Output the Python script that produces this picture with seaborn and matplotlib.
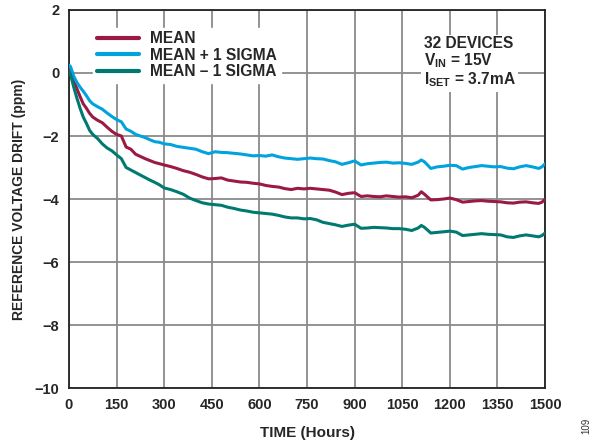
import numpy as np
import pandas as pd
import matplotlib
matplotlib.use("Agg")
import matplotlib.pyplot as plt
import seaborn as sns

hours = [0, 5, 15, 25, 35, 45, 55, 65, 75, 90, 105, 120, 135, 150, 165, 180, 195, 210, 225, 240,
         255, 270, 285, 300, 320, 340, 360, 380, 400, 420, 440, 460, 480, 500, 520, 540, 560, 580,
         600, 620, 640, 660, 680, 700, 720, 740, 760, 780, 800, 820, 840, 860, 880, 900, 920, 940,
         960, 980, 1000, 1020, 1040, 1060, 1080, 1100, 1110, 1120, 1140, 1160, 1180, 1200, 1220,
         1240, 1260, 1280, 1300, 1320, 1340, 1360, 1380, 1400, 1420, 1440, 1460, 1480, 1490, 1500]

mean = [0.15, 0.05, -0.25, -0.5, -0.75, -0.98, -1.12, -1.28, -1.4, -1.5, -1.58, -1.72, -1.85, -1.95,
        -2.0, -2.35, -2.42, -2.58, -2.65, -2.72, -2.78, -2.84, -2.88, -2.92, -2.97, -3.03, -3.1,
        -3.15, -3.22, -3.3, -3.36, -3.35, -3.33, -3.4, -3.43, -3.46, -3.47, -3.5, -3.52, -3.57,
        -3.6, -3.62, -3.67, -3.7, -3.66, -3.68, -3.66, -3.68, -3.7, -3.72, -3.78, -3.86, -3.82,
        -3.8, -3.92, -3.9, -3.92, -3.93, -3.9, -3.92, -3.94, -3.93, -3.96, -3.88, -3.77, -3.85,
        -4.03, -4.02, -4.0, -3.97, -4.02, -4.1, -4.08, -4.06, -4.05, -4.07, -4.08, -4.09, -4.12,
        -4.13, -4.1, -4.09, -4.12, -4.14, -4.1, -4.01]

mean_plus = [0.25, 0.2, -0.1, -0.3, -0.45, -0.58, -0.72, -0.88, -0.98, -1.07, -1.15, -1.27, -1.38,
             -1.48, -1.55, -1.78, -1.85, -1.95, -2.0, -2.05, -2.12, -2.18, -2.2, -2.25, -2.27, -2.33,
             -2.36, -2.39, -2.42, -2.5, -2.56, -2.5, -2.52, -2.53, -2.55, -2.57, -2.6, -2.63, -2.62,
             -2.64, -2.6, -2.66, -2.7, -2.72, -2.74, -2.72, -2.7, -2.72, -2.73, -2.78, -2.82, -2.9,
             -2.85, -2.79, -2.92, -2.88, -2.86, -2.84, -2.83, -2.86, -2.85, -2.87, -2.9, -2.83,
             -2.76, -2.82, -3.03, -2.98, -2.96, -2.93, -2.94, -3.05, -3.0, -2.97, -2.94, -2.96,
             -2.98, -2.97, -3.02, -3.04, -2.98, -2.94, -2.98, -3.03, -2.98, -2.88]

mean_minus = [0.05, -0.05, -0.45, -0.8, -1.12, -1.4, -1.6, -1.82, -1.95, -2.08, -2.25, -2.38, -2.47,
              -2.6, -2.72, -3.0, -3.08, -3.16, -3.24, -3.32, -3.4, -3.47, -3.55, -3.65, -3.7, -3.77,
              -3.85, -3.97, -4.05, -4.12, -4.16, -4.18, -4.2, -4.26, -4.3, -4.35, -4.38, -4.42,
              -4.44, -4.46, -4.48, -4.52, -4.57, -4.6, -4.6, -4.63, -4.62, -4.66, -4.74, -4.78,
              -4.82, -4.87, -4.83, -4.8, -4.93, -4.92, -4.9, -4.91, -4.92, -4.94, -4.94, -4.96,
              -5.0, -4.92, -4.84, -4.9, -5.08, -5.06, -5.04, -5.02, -5.05, -5.16, -5.14, -5.12,
              -5.1, -5.12, -5.13, -5.14, -5.2, -5.22, -5.17, -5.14, -5.17, -5.2, -5.16, -5.08]

series_names = ["MEAN", "MEAN + 1 SIGMA", "MEAN \u2013 1 SIGMA"]
colors = ["#9A1A44", "#00A3DD", "#007A70"]
x_ticks = [0, 150, 300, 450, 600, 750, 900, 1050, 1200, 1350, 1500]
y_ticks = [2, 0, -2, -4, -6, -8, -10]

sns.set_style("white")
plt.rcParams["font.family"] = ["Liberation Sans", "DejaVu Sans"]
plt.rcParams["mathtext.fontset"] = "custom"
plt.rcParams["mathtext.rm"] = "Liberation Sans:bold"
plt.rcParams["mathtext.it"] = "Liberation Sans:bold"
plt.rcParams["mathtext.bf"] = "Liberation Sans:bold"
plt.rcParams["mathtext.default"] = "rm"

df = pd.concat([
    pd.DataFrame({"hours": hours, "drift": vals, "series": name})
    for name, vals in zip(series_names, [mean, mean_plus, mean_minus])
])

fig = plt.figure(figsize=(6.03, 4.46), dpi=100)
ax = fig.add_axes([0.1144, 0.130, 0.7896, 0.8476])

sns.lineplot(data=df, x="hours", y="drift", hue="series", hue_order=series_names,
             palette=dict(zip(series_names, colors)), linewidth=2.2, ax=ax,
             legend=False, zorder=3)

ax.set_xlim(0, 1500)
ax.set_ylim(-10, 2)
ax.set_xticks(x_ticks)
ax.set_yticks(y_ticks)
ax.set_xticklabels([str(t) for t in x_ticks], fontsize=10.5, fontweight="bold")
ax.set_yticklabels([("\u2212" + str(-t)) if t < 0 else str(t) for t in y_ticks],
                   fontsize=10.5, fontweight="bold")
ax.tick_params(length=0, pad=7)
ax.grid(True, color="#8a8a8a", linewidth=1.3)
for s in ax.spines.values():
    s.set_color("#222222")
    s.set_linewidth(1.3)

ax.set_xlabel("TIME (Hours)", fontsize=11, fontweight="bold", labelpad=10)
ax.set_ylabel("REFERENCE VOLTAGE DRIFT (ppm)", fontsize=10, fontweight="bold", labelpad=6)

handles = [plt.Line2D([], [], color=c, linewidth=3) for c in colors]
leg = ax.legend(handles, series_names, loc="upper left", bbox_to_anchor=(0.035, 0.974),
                frameon=True, fancybox=False, framealpha=1, edgecolor="white",
                handlelength=2.7, handletextpad=0.7, labelspacing=0.08, borderpad=0.25,
                prop={"weight": "bold", "size": 11.2})
leg.set_zorder(5)

ax.text(0.745, 0.93, "32 DEVICES\n$V_{IN}$ = 15V\n$I_{SET}$ = 3.7mA",
        transform=ax.transAxes, ha="left", va="top", fontsize=11.2, fontweight="bold",
        linespacing=1.0, zorder=6,
        bbox=dict(facecolor="white", edgecolor="none", pad=2))

fig.text(0.972, 0.045, "109", rotation=90, fontsize=7, ha="center", va="center", color="#333333")

fig.savefig("out.png", dpi=100)
